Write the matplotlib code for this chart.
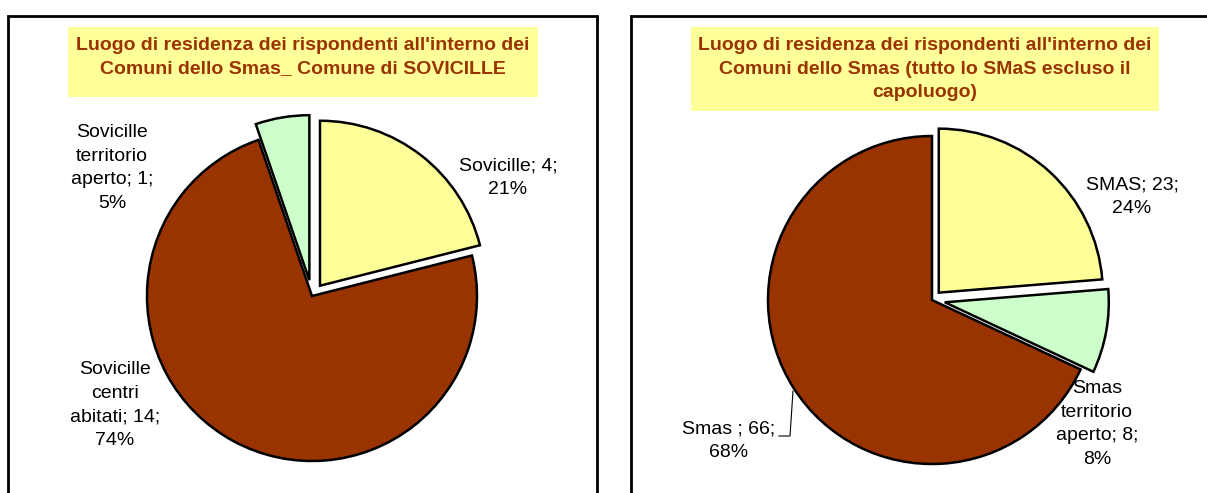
import matplotlib
matplotlib.use("Agg")
import matplotlib.pyplot as plt
from matplotlib.patches import Rectangle

plt.rcParams['font.family'] = ['Liberation Sans', 'DejaVu Sans']

# Data
left_title = "Luogo di residenza dei rispondenti all'interno dei\nComuni dello Smas_ Comune di SOVICILLE"
left_names = ["Sovicille", "Sovicille\ncentri\nabitati", "Sovicille\nterritorio\naperto"]
left_values = [4, 14, 1]

right_title = "Luogo di residenza dei rispondenti all'interno dei\nComuni dello Smas (tutto lo SMaS escluso il\ncapoluogo)"
right_names = ["SMAS", "Smas\nterritorio\naperto", "Smas "]
right_values = [23, 8, 66]

colors = ["#FFFF99", "#993300", "#CCFFCC"]
right_colors = ["#FFFF99", "#CCFFCC", "#993300"]

W, H = 1207, 493
fig = plt.figure(figsize=(W / 100, H / 100), dpi=100)
ax = fig.add_axes([0, 0, 1, 1])


def Y(y):
    # image pixel row -> axis coordinate
    return H - y


def labels_for(names, values):
    tot = sum(values)
    return [f"{n}; {v};\n{round(100 * v / tot):.0f}%" for n, v in zip(names, values)]


wp = dict(edgecolor="black", linewidth=1.8)

# left pie (explode is in pixels here since data units = pixels)
ax.pie(left_values, colors=colors, startangle=90, counterclock=False,
       center=(312, Y(296)), radius=165, explode=[13, 0, 16],
       wedgeprops=wp, frame=True)
# right pie
ax.pie(right_values, colors=right_colors, startangle=90, counterclock=False,
       center=(932, Y(300)), radius=164, explode=[10, 13, 0],
       wedgeprops=wp, frame=True)

ax.set_xlim(0, W)
ax.set_ylim(0, H)
ax.set_aspect("equal")
ax.axis("off")

# panel borders
ax.add_patch(Rectangle((8, Y(560)), 589, 560 - 16, fill=False, lw=2, ec="black"))
ax.add_patch(Rectangle((631, Y(560)), 620, 560 - 16, fill=False, lw=2, ec="black"))

# titles
ax.add_patch(Rectangle((68, Y(97)), 470, 70, fc="#FFFF99", ec="none"))
ax.text(303, Y(57), left_title, ha="center", va="center", fontsize=14,
        fontweight="bold", color="#993300", linespacing=1.5)
ax.add_patch(Rectangle((691, Y(111)), 468, 84, fc="#FFFF99", ec="none"))
ax.text(925, Y(69), right_title, ha="center", va="center", fontsize=14,
        fontweight="bold", color="#993300", linespacing=1.5)

# data labels
lab = labels_for(left_names, left_values)
lpos = [(508, 178), (115, 405), (112, 168)]
for t, (x, y) in zip(lab, lpos):
    ax.text(x, Y(y), t, ha="center", va="center", fontsize=14, linespacing=1.5)

lab = labels_for(right_names, right_values)
rpos = [(1132, 197), (1097, 424), (729, 441)]
for t, (x, y) in zip(lab, rpos):
    ax.text(x, Y(y), t, ha="center", va="center", fontsize=14, linespacing=1.5)

# leader line for the big right slice
ax.plot([793, 790, 779], [Y(391), Y(436), Y(436)], color="black", lw=0.8)

fig.savefig("out.png", dpi=100)
